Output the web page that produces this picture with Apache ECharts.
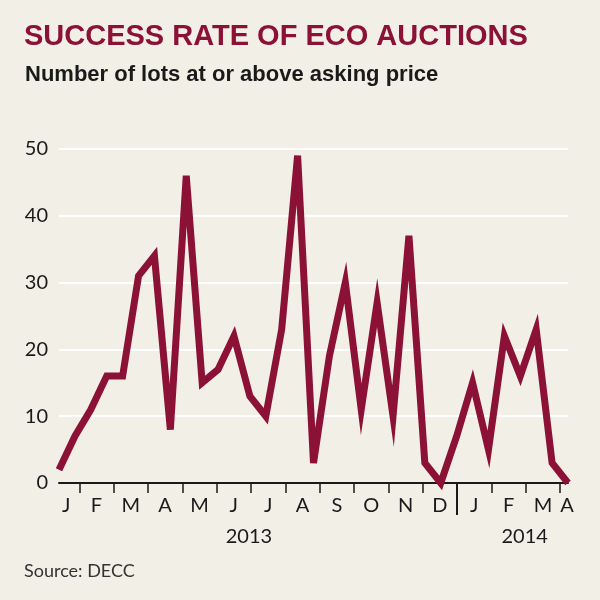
<!DOCTYPE html>
<html>

<head>
  <meta charset="utf-8">
  <title>Success rate of ECO auctions</title>
  <script src="https://cdn.jsdelivr.net/npm/echarts@6/dist/echarts.min.js"></script>
  <style>
    html, body {
      margin: 0;
      padding: 0;
      background: #f2efe6;
    }

    #chart {
      width: 600px;
      height: 600px;
    }
  </style>
</head>

<body>
  <div id="chart"></div>

  <script>
    // lots at or above asking price, one value per auction (Jan 2013 - Apr 2014)
    const auctionNo = ['1', '2', '3', '4', '5', '6', '7', '8', '9', '10', '11',
      '12', '13', '14', '15', '16', '17', '18', '19', '20', '21', '22',
      '23', '24', '25', '26', '27', '28', '29', '30', '31', '32', '33'];
    const lots = [2, 7, 11, 16, 16, 31, 34, 8, 46, 15, 17,
      22, 13, 10, 23, 49, 3, 19, 30, 11, 27, 10,
      37, 3, 0, 7, 15, 5, 22, 16, 23, 3, 0];

    // month letters, Jan 2013 .. Apr 2014
    const monthLetters = ['J', 'F', 'M', 'A', 'M', 'J', 'J', 'A', 'S', 'O', 'N', 'D',
      'J', 'F', 'M', 'A'];
    const years = ['2013', '2014'];
    const yTicks = [0, 10, 20, 30, 40, 50];

    const red = '#8c1136';
    const ink = '#1a1a1a';
    const font = 'Lato';

    // month axis in "months since 1 Jan 2013"; first auction mid-Jan, last early Apr
    const monthMin = 0.41, monthMax = 15.23;
    const monthTicks = monthLetters.slice(1).map((m, i) => i + 1);
    const monthLabelPos = monthLetters.map((m, i) => i + 0.5);
    monthLabelPos[0] = 0.62;
    monthLabelPos[monthLabelPos.length - 1] = 15.2;

    const chart = echarts.init(document.getElementById('chart'));
    chart.setOption({
      backgroundColor: '#f2efe6',
      animation: false,
      title: [
        {
          text: 'SUCCESS RATE OF ECO AUCTIONS',
          left: 19,
          top: 17,
          textStyle: {
            color: red,
            fontFamily: 'Liberation Sans',
            fontWeight: 'bold',
            fontSize: 29
          }
        },
        {
          text: 'Number of lots at or above asking price',
          left: 20,
          top: 59,
          textStyle: {
            color: ink,
            fontFamily: 'Liberation Sans',
            fontWeight: 'bold',
            fontSize: 22
          }
        },
        {
          text: 'Source: DECC',
          left: 19,
          top: 557,
          textStyle: {
            color: '#333',
            fontFamily: font,
            fontWeight: 'normal',
            fontSize: 18
          }
        }
      ],
      grid: {
        left: 59,
        right: 32,
        top: 149,
        bottom: 117
      },
      xAxis: [
        {
          // data axis, one slot per auction
          type: 'category',
          data: auctionNo,
          boundaryGap: false,
          show: false
        },
        {
          // month ticks and letters
          type: 'value',
          min: monthMin,
          max: monthMax,
          position: 'bottom',
          axisLine: { show: true, lineStyle: { color: ink, width: 2 } },
          axisTick: {
            show: true,
            customValues: monthTicks,
            length: 10,
            lineStyle: { color: ink, width: 1.5 }
          },
          axisLabel: {
            customValues: monthLabelPos,
            formatter: v => monthLetters[Math.min(Math.floor(v), monthLetters.length - 1)],
            margin: 13,
            color: ink,
            fontFamily: font,
            fontSize: 20
          },
          splitLine: { show: false }
        },
        {
          // year divider and year labels
          type: 'value',
          min: monthMin,
          max: monthMax,
          position: 'bottom',
          axisLine: { show: false },
          axisTick: {
            show: true,
            customValues: [12],
            length: 32,
            lineStyle: { color: ink, width: 2 }
          },
          axisLabel: {
            customValues: [5.94, 13.97],
            formatter: v => years[v < 12 ? 0 : 1],
            margin: 44,
            color: ink,
            fontFamily: font,
            fontSize: 20
          },
          splitLine: { show: false }
        }
      ],
      yAxis: {
        type: 'value',
        min: yTicks[0],
        max: yTicks[yTicks.length - 1],
        interval: 10,
        axisLine: { show: false },
        axisTick: { show: false },
        axisLabel: {
          margin: 11,
          color: ink,
          fontFamily: font,
          fontSize: 20
        },
        splitLine: { lineStyle: { color: '#ffffff', width: 2 } }
      },
      series: [
        {
          name: 'Lots',
          type: 'line',
          xAxisIndex: 0,
          data: lots,
          symbol: 'none',
          clip: false,
          lineStyle: { color: red, width: 7, join: 'miter' },
          z: 5
        }
      ]
    });
  </script>
</body>

</html>
